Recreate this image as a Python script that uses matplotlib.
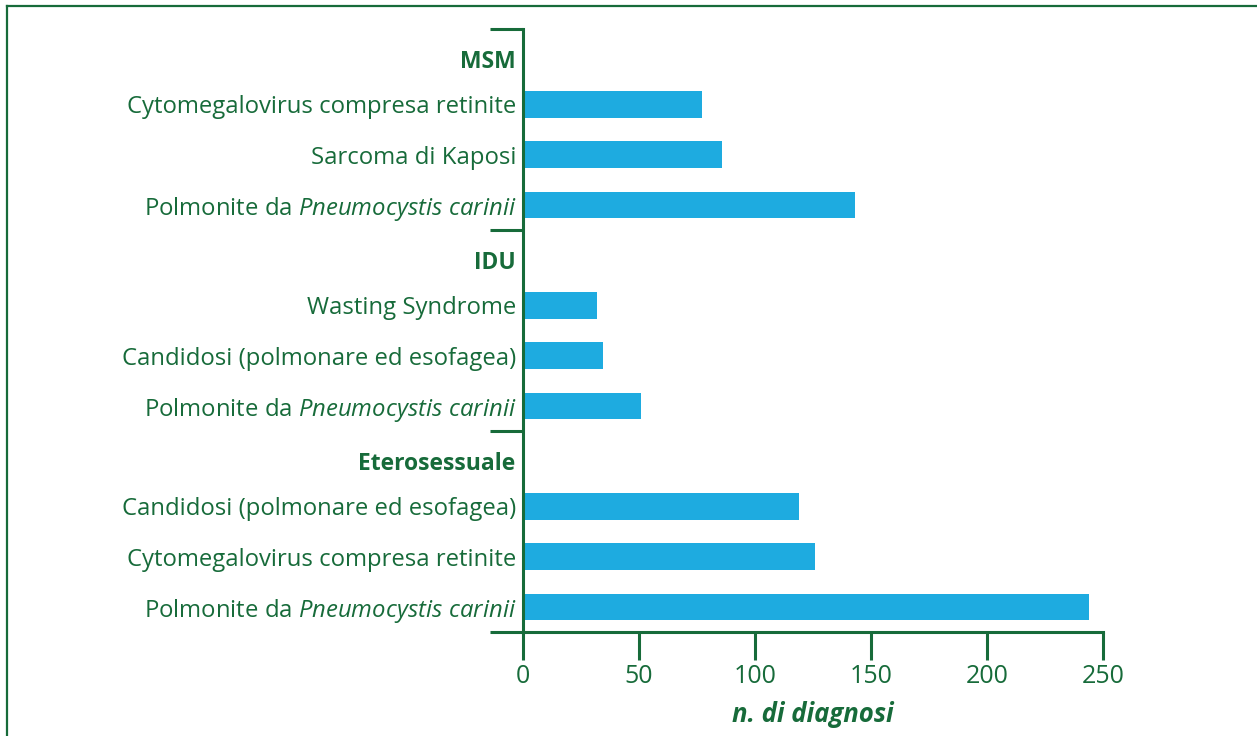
import matplotlib
matplotlib.use("Agg")
import matplotlib.pyplot as plt
from matplotlib.lines import Line2D

GREEN = "#176b3a"
BLUE = "#1eabe0"

plt.rcParams["font.family"] = ["Open Sans", "DejaVu Sans"]
plt.rcParams["mathtext.fontset"] = "custom"
plt.rcParams["mathtext.rm"] = "Open Sans"
plt.rcParams["mathtext.it"] = "Open Sans:italic"

PCP = r"Polmonite da $\mathit{Pneumocystis\ carinii}$"
CMV = "Cytomegalovirus compresa retinite"
CAND = "Candidosi (polmonare ed esofagea)"

groups = ["MSM", "IDU", "Eterosessuale"]
msm_labels = [CMV, "Sarcoma di Kaposi", PCP]
msm_values = [77, 86, 143]
idu_labels = ["Wasting Syndrome", CAND, PCP]
idu_values = [32, 34.5, 51]
etero_labels = [CAND, CMV, PCP]
etero_values = [119, 126, 244]

xticks = [0, 50, 100, 150, 200, 250]

fig = plt.figure(figsize=(12.57, 7.36), dpi=100)
ax = fig.add_axes([0.416, 0.1413, 0.4614, 0.8193])

# frame round the figure (top and left edges)
fig.add_artist(Line2D([0.0056, 1.0], [0.9918, 0.9918], color=GREEN, lw=1.6, transform=fig.transFigure))
fig.add_artist(Line2D([0.0056, 0.0056], [0.0, 0.9918], color=GREEN, lw=1.6, transform=fig.transFigure))

rows, labels = [], []
row = 0
for name, labs, vals in zip(groups, [msm_labels, idu_labels, etero_labels],
                            [msm_values, idu_values, etero_values]):
    ax.text(-3.2, row + 0.15, name, ha="right", va="center", color=GREEN,
            fontsize=16.5, fontweight="bold")
    for lab, v in zip(labs, vals):
        row += 1
        ax.barh(row, v, height=0.53, color=BLUE, zorder=2)
        rows.append(row)
        labels.append(lab)
    row += 1

ax.set_ylim(11.5, -0.5)
ax.set_xlim(0, 250)

ax.set_yticks([-0.5, 3.5, 7.5, 11.5], [])
ax.set_yticks(rows, labels, minor=True)
ax.tick_params(axis="y", which="major", length=24, width=2.2, color=GREEN, direction="out")
ax.tick_params(axis="y", which="minor", length=0, pad=4.5, labelsize=17.2, labelcolor=GREEN)

ax.set_xticks(xticks)
ax.tick_params(axis="x", length=20, width=2.2, color=GREEN, direction="out",
               labelsize=18, labelcolor=GREEN, pad=3)
ax.set_xlabel("n. di diagnosi", fontsize=18.5, fontweight="bold", fontstyle="italic",
              color=GREEN, labelpad=9)

for s in ["top", "right"]:
    ax.spines[s].set_visible(False)
for s in ["left", "bottom"]:
    ax.spines[s].set_color(GREEN)
    ax.spines[s].set_linewidth(2.2)

fig.savefig("out.png", dpi=100)
